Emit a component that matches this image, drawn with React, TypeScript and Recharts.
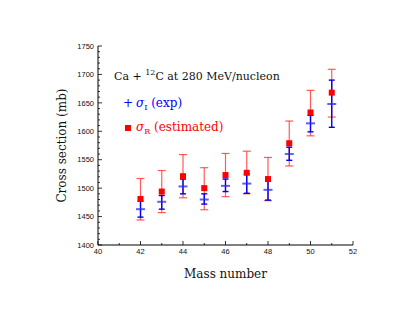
import React from 'react';
import { ScatterChart, Scatter, XAxis, YAxis, ErrorBar, Label } from 'recharts';

// mass numbers of the Ca isotopes
const massNumbers = [42, 43, 44, 45, 46, 47, 48, 49, 50, 51];

// sigma_I (exp) with lower / upper error ends
const sigmaI = [1463, 1476, 1503, 1480, 1504, 1508, 1497, 1560, 1614, 1648];
const sigmaILow = [1449, 1463, 1490, 1472, 1494, 1491, 1479, 1549, 1599, 1607];
const sigmaIHigh = [1477, 1487, 1516, 1490, 1516, 1525, 1516, 1572, 1628, 1690];

// sigma_R (estimated) with lower / upper error ends
const sigmaR = [1481, 1494, 1521, 1500, 1523, 1527, 1516, 1579, 1633, 1668];
const sigmaRLow = [1444, 1457, 1483, 1462, 1485, 1490, 1478, 1539, 1592, 1625];
const sigmaRHigh = [1517, 1531, 1559, 1536, 1561, 1565, 1554, 1618, 1672, 1709];

const xMajor = [40, 42, 44, 46, 48, 50, 52];
const yMajor = [1400, 1450, 1500, 1550, 1600, 1650, 1700, 1750];

const xTicks: number[] = [];
for (let v = 40; v <= 52; v += 1) xTicks.push(v);
const yTicks: number[] = [];
for (let v = 1400; v <= 1750; v += 10) yTicks.push(v);

const expData = massNumbers.map((m, i) => ({
    x: m,
    y: sigmaI[i],
    err: [sigmaI[i] - sigmaILow[i], sigmaIHigh[i] - sigmaI[i]],
}));
const estData = massNumbers.map((m, i) => ({
    x: m,
    y: sigmaR[i],
    err: [sigmaR[i] - sigmaRLow[i], sigmaRHigh[i] - sigmaR[i]],
}));

if (typeof document !== 'undefined') document.body.style.margin = '0';

const tickFont = { fontFamily: 'Liberation Sans, Arial, sans-serif', fontSize: 7.5, fill: '#111' };

const BottomTick = (props: any) => {
    const { x, y, payload } = props;
    const major = xMajor.includes(payload.value);
    return (
        <g>
            <line x1={x} x2={x} y1={y} y2={y - (major ? 4 : 2)} stroke="#000" strokeWidth={0.8} />
            {major && (
                <text x={x} y={y + 9} textAnchor="middle" {...tickFont}>{payload.value}</text>
            )}
        </g>
    );
};

const TopTick = (props: any) => {
    const { x, y, payload } = props;
    const major = xMajor.includes(payload.value);
    return <line x1={x} x2={x} y1={y} y2={y + (major ? 4 : 2)} stroke="#000" strokeWidth={0.8} />;
};

const LeftTick = (props: any) => {
    const { x, y, payload } = props;
    const major = yMajor.includes(payload.value);
    return (
        <g>
            <line x1={x} x2={x + (major ? 4 : 2)} y1={y} y2={y} stroke="#000" strokeWidth={0.8} />
            {major && (
                <text x={x - 4} y={y + 2.7} textAnchor="end" {...tickFont}>{payload.value}</text>
            )}
        </g>
    );
};

const RightTick = (props: any) => {
    const { x, y, payload } = props;
    const major = yMajor.includes(payload.value);
    return <line x1={x} x2={x - (major ? 4 : 2)} y1={y} y2={y} stroke="#000" strokeWidth={0.8} />;
};

const CrossShape = (props: any) => {
    const { cx, cy } = props;
    return <line x1={cx - 4.5} x2={cx + 4.5} y1={cy} y2={cy} stroke="rgba(40,40,255,0.75)" strokeWidth={2} />;
};

const SquareShape = (props: any) => {
    const { cx, cy } = props;
    return <rect x={cx - 3} y={cy - 3} width={6} height={6} fill="#ff0000" />;
};

const serif = 'DejaVu Serif, Liberation Serif, serif';

export default function App() {
    return (
        <div style={{ position: 'relative', width: 415, height: 321, background: '#fff' }}>
            <ScatterChart width={415} height={321} margin={{ top: 46, right: 62, bottom: 46, left: 58 }}>
                <XAxis
                    xAxisId="bottom"
                    type="number"
                    dataKey="x"
                    domain={[40, 52]}
                    ticks={xTicks}
                    interval={0}
                    tickSize={0}
                    tickMargin={0}
                    tickLine={false}
                    tick={<BottomTick />}
                    axisLine={{ stroke: '#000' }}
                    height={30}
                >
                    <Label value="Mass number" position="bottom" offset={-6} style={{ fontFamily: serif, fontSize: 12, fill: '#111' }} />
                </XAxis>
                <XAxis
                    xAxisId="top"
                    orientation="top"
                    type="number"
                    dataKey="x"
                    domain={[40, 52]}
                    ticks={xTicks}
                    interval={0}
                    tickSize={0}
                    tickMargin={0}
                    tickLine={false}
                    tick={<TopTick />}
                    axisLine={{ stroke: '#000' }}
                    height={0}
                />
                <YAxis
                    yAxisId="left"
                    type="number"
                    dataKey="y"
                    domain={[1400, 1750]}
                    ticks={yTicks}
                    interval={0}
                    tickSize={0}
                    tickMargin={0}
                    tickLine={false}
                    tick={<LeftTick />}
                    axisLine={{ stroke: '#000' }}
                    width={40}
                >
                    <Label
                        value="Cross section (mb)"
                        angle={-90}
                        position="insideLeft"
                        offset={4}
                        style={{ fontFamily: serif, fontSize: 12, fill: '#111', textAnchor: 'middle' }}
                    />
                </YAxis>
                <YAxis
                    yAxisId="right"
                    orientation="right"
                    type="number"
                    dataKey="y"
                    domain={[1400, 1750]}
                    ticks={yTicks}
                    interval={0}
                    tickSize={0}
                    tickMargin={0}
                    tickLine={false}
                    tick={<RightTick />}
                    axisLine={{ stroke: '#000' }}
                    width={0}
                />
                <Scatter
                    data={estData}
                    xAxisId="bottom"
                    yAxisId="left"
                    shape={<SquareShape />}
                    isAnimationActive={false}
                >
                    <ErrorBar dataKey="err" direction="y" width={4} stroke="rgba(255,50,50,0.8)" strokeWidth={1.2} />
                </Scatter>
                <Scatter
                    data={expData}
                    xAxisId="bottom"
                    yAxisId="left"
                    shape={<CrossShape />}
                    isAnimationActive={false}
                >
                    <ErrorBar dataKey="err" direction="y" width={3} stroke="#0000ee" strokeWidth={1.4} />
                </Scatter>
            </ScatterChart>
            <div
                style={{
                    position: 'absolute',
                    left: 114,
                    top: 68,
                    fontFamily: serif,
                    fontSize: 11,
                    color: '#111',
                    whiteSpace: 'nowrap',
                }}
            >
                Ca + <sup style={{ fontSize: 8 }}>12</sup>C at 280 MeV/nucleon
            </div>
            <div
                style={{
                    position: 'absolute',
                    left: 120,
                    top: 95,
                    fontFamily: serif,
                    fontSize: 12,
                    color: '#0000ff',
                    whiteSpace: 'nowrap',
                    lineHeight: '16px',
                }}
            >
                <span style={{ display: 'inline-block', width: 16, textAlign: 'center' }}>+</span>
                <i>σ</i>
                <sub style={{ fontSize: 8 }}>I</sub> (exp)
            </div>
            <div
                style={{
                    position: 'absolute',
                    left: 120,
                    top: 119,
                    fontFamily: serif,
                    fontSize: 12,
                    color: '#ff0000',
                    whiteSpace: 'nowrap',
                    lineHeight: '16px',
                }}
            >
                <span style={{ display: 'inline-block', width: 16, textAlign: 'center' }}>
                    <span style={{ display: 'inline-block', width: 6, height: 6, background: '#ff0000' }} />
                </span>
                <i>σ</i>
                <sub style={{ fontSize: 8 }}>R</sub> (estimated)
            </div>
        </div>
    );
}
